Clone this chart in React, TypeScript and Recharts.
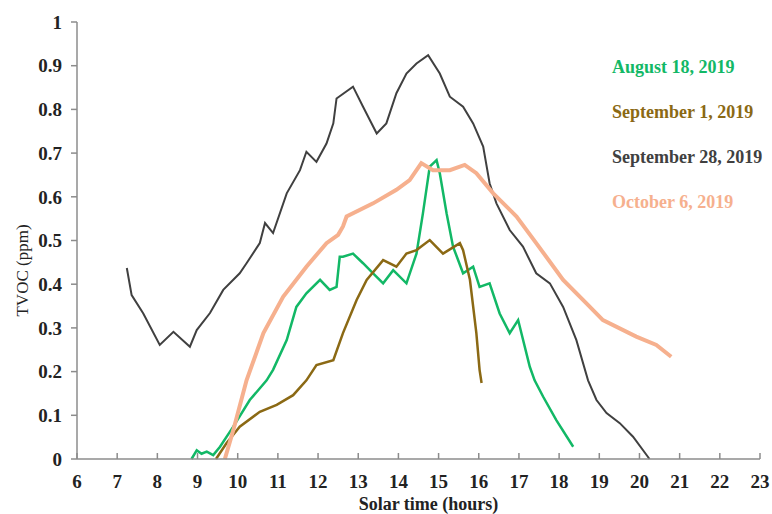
import React from "react"
import { LineChart, Line, XAxis, YAxis } from "recharts"

const FONT = '"Liberation Serif", "Times New Roman", serif'

// Aug 18, 2019
const augHours = [8.85, 8.98, 9.1, 9.23, 9.39, 9.56, 9.89, 10.3, 10.72, 10.88, 11.22, 11.46, 11.71, 12.05, 12.29, 12.46, 12.54, 12.62, 12.87, 13.12, 13.37, 13.62, 13.87, 14.2, 14.45, 14.61, 14.78, 14.95, 15.03, 15.2, 15.36, 15.61, 15.86, 16.02, 16.27, 16.52, 16.77, 16.98, 17.27, 17.39, 17.6, 17.93, 18.35]
const augValues = [0.0, 0.02, 0.012, 0.017, 0.009, 0.028, 0.074, 0.135, 0.18, 0.204, 0.272, 0.348, 0.379, 0.41, 0.387, 0.394, 0.463, 0.463, 0.47, 0.448, 0.425, 0.402, 0.432, 0.402, 0.47, 0.562, 0.669, 0.684, 0.654, 0.562, 0.486, 0.425, 0.44, 0.394, 0.402, 0.333, 0.288, 0.318, 0.211, 0.18, 0.143, 0.089, 0.028]

// Sep 1, 2019
const sep1Hours = [9.46, 9.72, 10.05, 10.55, 10.97, 11.38, 11.71, 11.96, 12.38, 12.62, 12.96, 13.21, 13.62, 13.95, 14.2, 14.45, 14.78, 15.11, 15.53, 15.61, 15.78, 15.94, 16.02, 16.07]
const sep1Values = [0, 0.036, 0.074, 0.108, 0.124, 0.146, 0.18, 0.215, 0.226, 0.288, 0.364, 0.41, 0.455, 0.44, 0.47, 0.478, 0.501, 0.47, 0.494, 0.478, 0.41, 0.288, 0.204, 0.174]

// Sep 28, 2019
const sep28Hours = [7.24, 7.36, 7.65, 8.06, 8.4, 8.81, 8.98, 9.31, 9.64, 10.05, 10.22, 10.55, 10.68, 10.88, 11.22, 11.55, 11.71, 11.96, 12.21, 12.38, 12.46, 12.87, 13.12, 13.46, 13.7, 13.95, 14.2, 14.45, 14.74, 15.03, 15.28, 15.61, 15.86, 16.11, 16.27, 16.44, 16.77, 17.1, 17.43, 17.77, 18.1, 18.43, 18.72, 18.93, 19.18, 19.51, 19.84, 20.25]
const sep28Values = [0.437, 0.375, 0.333, 0.261, 0.291, 0.257, 0.295, 0.334, 0.387, 0.425, 0.448, 0.494, 0.54, 0.517, 0.608, 0.661, 0.703, 0.68, 0.722, 0.768, 0.825, 0.852, 0.806, 0.745, 0.768, 0.837, 0.882, 0.905, 0.924, 0.882, 0.829, 0.806, 0.768, 0.715, 0.631, 0.585, 0.524, 0.486, 0.425, 0.402, 0.348, 0.272, 0.18, 0.135, 0.105, 0.082, 0.051, 0]

// Oct 6, 2019
const octHours = [9.68, 9.89, 10.22, 10.64, 11.13, 11.71, 12.21, 12.5, 12.62, 12.71, 13.37, 13.95, 14.28, 14.57, 14.86, 15.28, 15.65, 15.94, 16.36, 16.94, 17.43, 18.1, 18.68, 19.09, 19.92, 20.42, 20.79]
const octValues = [0, 0.066, 0.18, 0.288, 0.371, 0.44, 0.494, 0.513, 0.532, 0.555, 0.585, 0.616, 0.638, 0.677, 0.661, 0.661, 0.673, 0.654, 0.608, 0.555, 0.494, 0.41, 0.356, 0.318, 0.28, 0.261, 0.234]

const xTicks = [6, 7, 8, 9, 10, 11, 12, 13, 14, 15, 16, 17, 18, 19, 20, 21, 22, 23]
const yTicks = [0, 0.1, 0.2, 0.3, 0.4, 0.5, 0.6, 0.7, 0.8, 0.9, 1]

const zip = (hours: number[], values: number[]) => hours.map((h, i) => ({ h, v: values[i] }))

const series = [
  { name: "August 18, 2019", color: "#12b866", width: 2.5, data: zip(augHours, augValues) },
  { name: "September 1, 2019", color: "#8b6914", width: 2.5, data: zip(sep1Hours, sep1Values) },
  { name: "September 28, 2019", color: "#404040", width: 2, data: zip(sep28Hours, sep28Values) },
  { name: "October 6, 2019", color: "#f6b08e", width: 4, data: zip(octHours, octValues) },
]

const AXIS = "#8c8c8c"

function XTick(props: any) {
  const { x, y, payload } = props
  return (
    <g>
      <line x1={x} x2={x} y1={y} y2={y - 6} stroke={AXIS} strokeWidth={1.5} />
      <text x={x} y={y + 29} textAnchor="middle" fontFamily={FONT} fontSize={19} fontWeight="bold" fill="#222">
        {payload.value}
      </text>
    </g>
  )
}

// series labels sit at the right, one under another (no keys)
function SeriesLabels() {
  return (
    <div style={{ position: "absolute", left: 612, top: 56, fontFamily: FONT, fontWeight: "bold", fontSize: 18 }}>
      {series.map((s) => (
        <div key={s.name} style={{ color: s.color, height: 45, lineHeight: "22px", whiteSpace: "nowrap" }}>
          {s.name}
        </div>
      ))}
    </div>
  )
}

export default function App() {
  return (
    <div style={{ position: "absolute", left: 0, top: 0, width: 772, height: 514, background: "#fff" }}>
      <LineChart width={772} height={514} margin={{ top: 22, right: 12, left: 0, bottom: 0 }}>
        <XAxis
          type="number"
          dataKey="h"
          domain={[6, 23]}
          ticks={xTicks}
          interval={0}
          allowDataOverflow
          height={55}
          tickSize={0}
          tickMargin={0}
          tick={<XTick />}
          axisLine={{ stroke: AXIS, strokeWidth: 1.5 }}
          label={{
            value: "Solar time (hours)",
            position: "insideBottom",
            offset: 4,
            dx: 10,
            style: { fontFamily: FONT, fontSize: 18, fontWeight: "bold", fill: "#222" },
          }}
        />
        <YAxis
          type="number"
          domain={[0, 1]}
          ticks={yTicks}
          interval={0}
          width={77}
          tickSize={6}
          tickMargin={9}
          tickFormatter={(v: number) => (v === 0 || v === 1 ? String(v) : v.toFixed(1))}
          tick={{ fontFamily: FONT, fontSize: 19, fontWeight: "bold", fill: "#222" }}
          tickLine={{ stroke: AXIS, strokeWidth: 1.5 }}
          axisLine={{ stroke: AXIS, strokeWidth: 1.5 }}
          label={{
            value: "TVOC (ppm)",
            angle: -90,
            position: "insideLeft",
            offset: 22,
            dy: 30,
            style: { fontFamily: FONT, fontSize: 17, fill: "#222", textAnchor: "middle" },
          }}
        />
        {series.map((s) => (
          <Line
            key={s.name}
            name={s.name}
            data={s.data}
            dataKey="v"
            type="linear"
            stroke={s.color}
            strokeWidth={s.width}
            dot={false}
            isAnimationActive={false}
          />
        ))}
      </LineChart>
      <SeriesLabels />
    </div>
  )
}
